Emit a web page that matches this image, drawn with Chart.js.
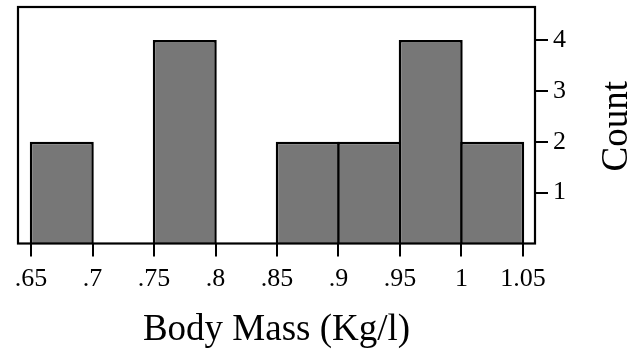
<!DOCTYPE html>
<html>
<head>
<meta charset="utf-8">
<script src="https://cdn.jsdelivr.net/npm/chart.js@4/dist/chart.umd.min.js"></script>
<style>
  html, body { margin: 0; padding: 0; background: #fff; }
  #wrap { width: 638px; height: 356px; position: relative; }
</style>
</head>
<body>
<div id="wrap"><canvas id="c"></canvas></div>
<script>
// ---- data ----
const binStarts = [0.65, 0.70, 0.75, 0.80, 0.85, 0.90, 0.95, 1.00];
const counts    = [2, 0, 4, 0, 2, 2, 4, 2];
const binWidth  = 0.05;
const xTicks      = [0.65, 0.70, 0.75, 0.80, 0.85, 0.90, 0.95, 1.00, 1.05];
const xTickLabels = ['.65', '.7', '.75', '.8', '.85', '.9', '.95', '1', '1.05'];
const yTicks      = [1, 2, 3, 4];
const xTitle = 'Body Mass (Kg/l)';
const yTitle = 'Count';

const FONT = "'Liberation Serif', 'Times New Roman', serif";

const points = binStarts.map((s, i) => ({ x: s + binWidth / 2, y: counts[i] }));

const framePlugin = {
  id: 'frame',
  afterDatasetsDraw(chart) {
    const a = chart.chartArea;
    const ctx = chart.ctx;
    ctx.save();
    ctx.strokeStyle = '#000';
    ctx.lineWidth = 2.2;
    ctx.strokeRect(a.left, a.top, a.right - a.left, a.bottom - a.top);
    ctx.restore();
  },
  afterDraw(chart) {
    const a = chart.chartArea;
    const ctx = chart.ctx;
    ctx.save();
    ctx.fillStyle = '#000';
    ctx.font = '37px ' + FONT;
    ctx.textAlign = 'center';
    ctx.textBaseline = 'middle';
    ctx.translate(617, (a.top + a.bottom) / 2 + 1);
    ctx.rotate(-Math.PI / 2);
    ctx.fillText(yTitle, 0, 0);
    ctx.restore();
  }
};

new Chart(document.getElementById('c'), {
  type: 'bar',
  data: {
    datasets: [{
      data: points,
      backgroundColor: '#777777',
      borderColor: '#000000',
      borderWidth: 2.5,
      borderSkipped: 'start',
      inflateAmount: 0,
      barPercentage: 1.0407,
      categoryPercentage: 1
    }]
  },
  plugins: [framePlugin],
  options: {
    responsive: true,
    maintainAspectRatio: false,
    animation: false,
    layout: { padding: { left: 18, top: 7, right: 0, bottom: 0 } },
    plugins: { legend: { display: false }, tooltip: { enabled: false } },
    scales: {
      x: {
        type: 'linear',
        offset: false,
        min: 0.6394,
        max: 1.0598,
        afterBuildTicks(scale) { scale.ticks = xTicks.map(v => ({ value: v })); },
        afterFit(scale) { scale.height = 112.5; scale.paddingLeft = 0; scale.paddingRight = 0; },
        border: { display: false },
        grid: { offset: false, drawOnChartArea: false, drawTicks: true, tickLength: 13, color: '#000', lineWidth: 2 },
        ticks: {
          autoSkip: false, maxRotation: 0, minRotation: 0,
          color: '#000', padding: 7,
          font: { family: FONT, size: 26 },
          callback: (v, i) => xTickLabels[i]
        },
        title: {
          display: true, text: xTitle, color: '#000',
          font: { family: FONT, size: 37 },
          padding: { top: 0, bottom: 4 }
        }
      },
      y: {
        position: 'right',
        min: 0,
        max: 4.65,
        afterBuildTicks(scale) { scale.ticks = yTicks.map(v => ({ value: v })); },
        afterFit(scale) { scale.width = 103; scale.paddingTop = 0; scale.paddingBottom = 0; },
        border: { display: false },
        grid: { drawOnChartArea: false, drawTicks: true, tickLength: 13, color: '#000', lineWidth: 2 },
        ticks: {
          color: '#000', padding: 5,
          font: { family: FONT, size: 26 },
          callback: v => String(v)
        }
      }
    }
  }
});
</script>
</body>
</html>
